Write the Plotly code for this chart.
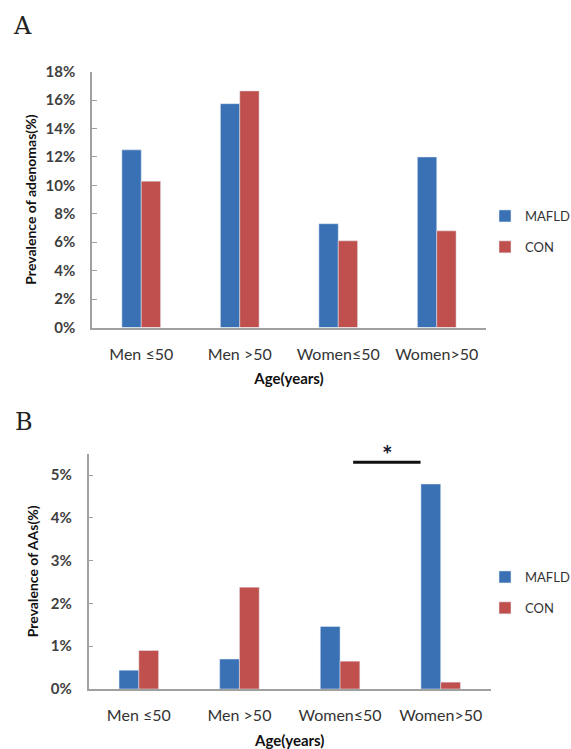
import plotly.graph_objects as go

categories = ["Men ≤50", "Men >50", "Women≤50", "Women>50"]
mafld_adenomas = [12.5, 15.75, 7.3, 12.0]
con_adenomas = [10.3, 16.65, 6.1, 6.8]
mafld_aas = [0.44, 0.70, 1.46, 4.79]
con_aas = [0.90, 2.38, 0.65, 0.16]

BLUE = "#3A71B5"
RED = "#C0504D"
AXIS = "#A0A0A0"
FONT = "Lato, 'Open Sans', sans-serif"

fig = go.Figure()
fig.add_trace(go.Bar(x=categories, y=mafld_adenomas, name="MAFLD", marker_color=BLUE,
                     xaxis="x", yaxis="y", legend="legend", legendgroup="a1"))
fig.add_trace(go.Bar(x=categories, y=con_adenomas, name="CON", marker_color=RED,
                     xaxis="x", yaxis="y", legend="legend", legendgroup="a2"))
fig.add_trace(go.Bar(x=categories, y=mafld_aas, name="MAFLD", marker_color=BLUE,
                     xaxis="x2", yaxis="y2", legend="legend2", legendgroup="b1"))
fig.add_trace(go.Bar(x=categories, y=con_aas, name="CON", marker_color=RED,
                     xaxis="x2", yaxis="y2", legend="legend2", legendgroup="b2"))

W, H = 571, 749

def px(v):
    return v / W

def py(v):
    return 1 - v / H

common_y = dict(showline=True, linecolor=AXIS, linewidth=1.5, ticks="inside", ticklen=5,
                tickcolor=AXIS, tickwidth=1, showgrid=False, zeroline=False, ticksuffix="%",
                ticklabelstandoff=12,
                tickfont=dict(family=FONT, size=15, color="#404040", weight="bold"),
                title_font=dict(family=FONT, size=14, color="#111", weight="bold"))
common_x = dict(showline=True, linecolor=AXIS, linewidth=2, ticks="", showgrid=False,
                ticklabelstandoff=11,
                tickfont=dict(family=FONT, size=16, color="#333"),
                title_font=dict(family=FONT, size=15, color="#111", weight="bold"))

legend_common = dict(xanchor="left", yanchor="top", font=dict(family=FONT, size=13, color="#333"),
                     itemwidth=30, tracegroupgap=11, bgcolor="rgba(0,0,0,0)")

fig.update_layout(
    width=W, height=H,
    margin=dict(l=0, r=0, t=0, b=0, autoexpand=False),
    paper_bgcolor="white", plot_bgcolor="white",
    barmode="group", bargap=0.607, bargroupgap=0,
    font=dict(family=FONT),
    xaxis=dict(domain=[px(92), px(486)], anchor="y", title=dict(text="Age(years)", standoff=12),
               **common_x),
    yaxis=dict(domain=[py(327.5), py(71.7)], anchor="x", range=[0, 18], dtick=2,
               title=dict(text="Prevalence of adenomas(%)", standoff=6), **common_y),
    xaxis2=dict(domain=[px(88.5), px(491)], anchor="y2", title=dict(text="Age(years)", standoff=13),
                **common_x),
    yaxis2=dict(domain=[py(689), py(453.6)], anchor="x2", range=[0, 5.5], dtick=1,
                title=dict(text="Prevalence of AAs(%)", standoff=9), **common_y),
    legend=dict(x=px(485), y=py(201), **legend_common),
    legend2=dict(x=px(485), y=py(562), **legend_common),
    showlegend=True,
)

fig.add_annotation(text="A", x=px(11), y=py(10), xref="paper", yref="paper",
                   xanchor="left", yanchor="top", showarrow=False,
                   font=dict(family="'DejaVu Serif', serif", size=24, color="#222"))
fig.add_annotation(text="B", x=px(13), y=py(406), xref="paper", yref="paper",
                   xanchor="left", yanchor="top", showarrow=False,
                   font=dict(family="'DejaVu Serif', serif", size=24, color="#222"))

# significance bar between Women≤50 and Women>50
fig.add_shape(type="line", xref="x2", yref="y2", x0=2.13, x1=2.8, y0=5.3, y1=5.3,
              line=dict(color="#111", width=3))
fig.add_annotation(text="*", xref="x2", yref="y2", x=2.47, y=5.3, yanchor="bottom",
                   yshift=-9, showarrow=False,
                   font=dict(family=FONT, size=25, color="#1a1a2e", weight="bold"))

fig.write_html("out.html", config={"displayModeBar": False},
               post_script="document.body.style.margin='0';document.body.style.overflow='hidden';")
